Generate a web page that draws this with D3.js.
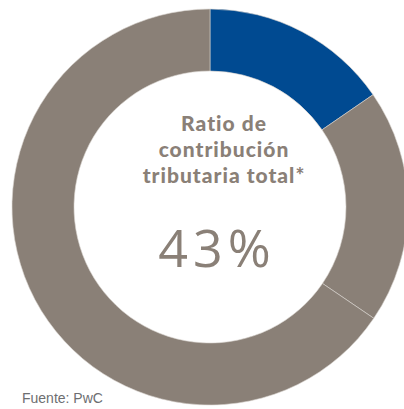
<!DOCTYPE html>
<html>
<head>
<meta charset="utf-8">
<script src="https://cdn.jsdelivr.net/npm/d3@7"></script>
<style>
  body { margin: 0; background: #fff; }
</style>
</head>
<body>
<div class="chart"></div>
<script>
// slices of the ring, clockwise from 12 o'clock (percent)
let categories = ["a", "b", "c"];
let values = [15.4, 19.1, 65.5];
let colors = ["#004a91", "#8a8077", "#8a8077"];
let titleLines = ["Ratio de", "contribución", "tributaria total*"];
let bigValue = "43%";
let source = "Fuente: PwC";

let w = 404;
let h = 409;
let cx = 210, cy = 207;
let outerR = 198, innerR = 136;

let svg = d3.select(".chart")
    .append("svg")
    .attr("width", w)
    .attr("height", h);

let pie = d3.pie()
    .sort(null)
    .value(function (d) { return d; });

let arc = d3.arc()
    .innerRadius(innerR)
    .outerRadius(outerR);

let g = svg.append("g")
    .attr("transform", "translate(" + cx + "," + cy + ")");

g.selectAll("path")
    .data(pie(values))
    .enter().append("path")
    .attr("d", arc)
    .attr("fill", function (d, i) { return colors[i]; })
    .attr("stroke", "#d9d4cf")
    .attr("stroke-width", 0.6);

svg.append("g")
    .selectAll("text")
    .data(titleLines)
    .enter().append("text")
    .attr("x", 224)
    .attr("y", function (d, i) { return 131 + i * 26; })
    .attr("text-anchor", "middle")
    .attr("font-family", "Lato, sans-serif")
    .attr("font-weight", 900)
    .attr("font-size", "21px")
    .attr("letter-spacing", "1px")
    .attr("fill", "#8a8077")
    .text(function (d) { return d; });

svg.append("text")
    .attr("x", 217)
    .attr("y", 267)
    .attr("text-anchor", "middle")
    .attr("font-family", "'Open Sans', sans-serif")
    .attr("font-weight", 400)
    .attr("font-size", "52px")
    .attr("letter-spacing", "5px")
    .attr("fill", "#8a8077")
    .text(bigValue);

svg.append("text")
    .attr("x", 22)
    .attr("y", 403)
    .attr("font-family", "'Liberation Sans Narrow', 'Liberation Sans', Arial, sans-serif")
    .attr("font-size", "14px")
    .attr("fill", "#6d6e71")
    .text(source);
</script>
</body>
</html>
